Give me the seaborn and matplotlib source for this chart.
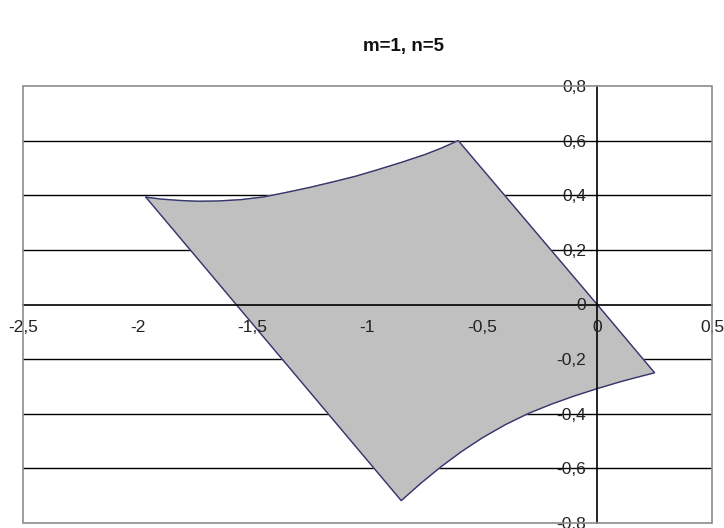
import pandas as pd
import matplotlib
matplotlib.use('Agg')
import matplotlib.pyplot as plt
import seaborn as sns
from matplotlib.patches import Rectangle

# Boundary of the region (clockwise from the left corner)
top_x = [-1.965, -1.9, -1.82, -1.74, -1.65, -1.55, -1.45, -1.35, -1.25, -1.15,
         -1.05, -0.95, -0.85, -0.75, -0.68, -0.605]
top_y = [0.393, 0.386, 0.381, 0.378, 0.379, 0.384, 0.394, 0.411, 0.429, 0.449,
         0.470, 0.495, 0.521, 0.549, 0.572, 0.600]
right_x = [-0.605, 0.0, 0.25]
right_y = [0.600, 0.0, -0.25]
bottom_x = [0.25, 0.18, 0.1, 0.0, -0.1, -0.2, -0.3, -0.4, -0.5, -0.59, -0.68,
            -0.77, -0.853]
bottom_y = [-0.25, -0.265, -0.283, -0.308, -0.335, -0.365, -0.399, -0.440,
            -0.488, -0.538, -0.594, -0.656, -0.718]
left_x = [-0.853, -1.965]
left_y = [-0.718, 0.393]

x_ticks = [-2.5, -2, -1.5, -1, -0.5, 0, 0.5]
x_tick_labels = ['-2,5', '-2', '-1,5', '-1', '-0,5', '0', '0,5']
y_ticks = [-0.8, -0.6, -0.4, -0.2, 0, 0.2, 0.4, 0.6, 0.8]
y_tick_labels = ['-0,8', '-0,6', '-0,4', '-0,2', '0', '0,2', '0,4', '0,6', '0,8']

title = 'm=1, n=5'

# Put the outline together in drawing order
outline = pd.DataFrame({
    'x': top_x + right_x[1:] + bottom_x[1:] + left_x[1:],
    'y': top_y + right_y[1:] + bottom_y[1:] + left_y[1:],
})

sns.set_style('white')
plt.rcParams['font.family'] = ['Liberation Sans', 'DejaVu Sans']

fig = plt.figure(figsize=(7.24, 5.28), dpi=100)
ax = fig.add_axes([23 / 724, 5 / 528, 689 / 724, 437 / 528])

# Grey fill + dark blue outline
ax.fill(outline['x'], outline['y'], color='#c0c0c0', zorder=2)
sns.lineplot(data=outline, x='x', y='y', sort=False, estimator=None,
             color='#35356f', linewidth=1.0, ax=ax, zorder=3)

ax.set_xlim(-2.5, 0.5)
ax.set_ylim(-0.8, 0.8)

# Horizontal gridlines (under the series)
for yv in y_ticks[1:-1]:
    if yv != 0:
        ax.axhline(yv, color='black', linewidth=1.0, zorder=1)

# Axes crossing at the origin, drawn over the series
ax.spines['left'].set_position(('data', 0))
ax.spines['bottom'].set_position(('data', 0))
ax.spines['top'].set_visible(False)
ax.spines['right'].set_visible(False)
for s in ['left', 'bottom']:
    ax.spines[s].set_color('black')
    ax.spines[s].set_linewidth(1.2)
    ax.spines[s].set_zorder(4)
ax.xaxis.set_zorder(4)
ax.yaxis.set_zorder(4)

ax.set_xticks(x_ticks)
ax.set_xticklabels(x_tick_labels)
ax.set_yticks(y_ticks)
ax.set_yticklabels(y_tick_labels)
ax.tick_params(axis='both', direction='out', length=5, width=1,
               color='black', labelsize=12.5, labelcolor='#222222', pad=3)
ax.tick_params(axis='x', pad=6)
ax.set_xlabel('')
ax.set_ylabel('')

# Grey plot-area border
ax.add_patch(Rectangle((0, 0), 1, 1, transform=ax.transAxes, fill=False,
                       edgecolor='#8c8c8c', linewidth=1.2, zorder=5, clip_on=False))

fig.text(403 / 724, 1 - 47 / 528, title, ha='center', va='center',
         fontsize=13.5, fontweight='bold', color='#111111')

fig.savefig('out.png', dpi=100)
